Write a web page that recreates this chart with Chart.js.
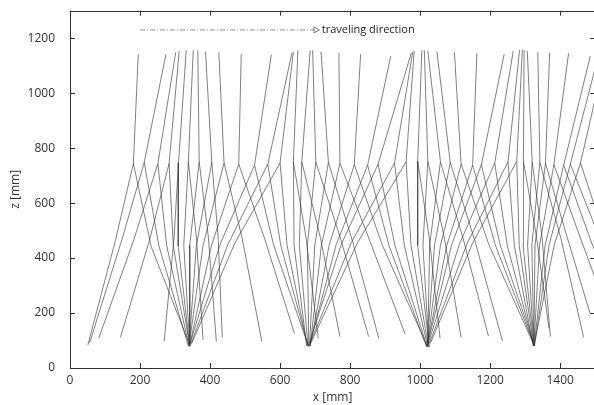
<!DOCTYPE html>
<html>
<head>
<meta charset="utf-8">
<script src="https://cdn.jsdelivr.net/npm/chart.js@4.4.0/dist/chart.umd.min.js"></script>
<style>
  html, body { margin: 0; padding: 0; background: #fff; overflow: hidden; }
  #wrap { width: 600px; height: 405px; position: relative; }
</style>
</head>
<body>
<div id="wrap"><canvas id="gait"></canvas></div>
<script>
// stick figures of a walking gait, one entry per frame (mm)
const hipX = [181, 212, 251, 283, 310, 338, 369, 405, 440, 482, 527, 565, 600, 638, 662, 702, 738, 771, 812, 850, 880, 927, 960, 993, 1022, 1058, 1086, 1117, 1150, 1175, 1213, 1251, 1276, 1295, 1320, 1342, 1358, 1382, 1410, 1429, 1458];
const hipZ = [744, 748, 744, 744, 748, 750, 750, 748, 746, 742, 738, 742, 746, 750, 750, 750, 748, 745, 740, 738, 742, 746, 750, 752, 752, 750, 748, 742, 738, 740, 745, 750, 752, 752, 750, 748, 745, 740, 738, 742, 746];
const topX = [195, 274, 302, 312, 332, 352, 365, 387, 425, 489, 575, 634, 638, 651, 686, 693, 717, 768, 830, 916, 975, 979, 983, 1005, 1012, 1022, 1048, 1098, 1162, 1240, 1266, 1284, 1292, 1297, 1306, 1336, 1370, 1424, 1486, 1510, 1530];
const topZ = [1142, 1142, 1149, 1154, 1156, 1156, 1156, 1151, 1149, 1142, 1140, 1147, 1151, 1156, 1156, 1156, 1151, 1147, 1142, 1135, 1147, 1151, 1154, 1156, 1156, 1154, 1151, 1149, 1145, 1142, 1154, 1156, 1158, 1156, 1154, 1149, 1147, 1145, 1135, 1140, 1145];

// leg A
const kneeAX = [232, 254, 276, 295, 309, 325, 342, 361, 380, 404, 428, 451, 471, 674, 715, 773, 806, 857, 891, 911, 928, 955, 974, 993, 1008, 1027, 1041, 1058, 1076, 1090, 1112, 1134, 1150, 1332, 1348, 1402, 1419, 1460, 1490, 1520, 1535];
const kneeAZ = [441, 444, 446, 446, 444, 446, 446, 446, 446, 446, 448, 450, 455, 475, 475, 470, 465, 460, 450, 446, 446, 446, 446, 446, 446, 446, 446, 446, 446, 448, 450, 452, 455, 480, 478, 472, 480, 465, 455, 450, 448];
const ankleAX = [342, 338, 340, 342, 342, 342, 342, 340, 340, 342, 342, 345, 348, 709, 771, 853, 882, 957, 1020, 1018, 1020, 1022, 1024, 1026, 1025, 1022, 1020, 1020, 1020, 1020, 1022, 1026, 1030, 1368, 1372, 1467, 1485, 1560, 1600, 1640, 1660];
const ankleAZ = [84, 80, 80, 78, 78, 80, 80, 80, 82, 84, 84, 86, 90, 108, 114, 114, 108, 124, 80, 78, 76, 76, 76, 78, 78, 78, 78, 80, 80, 80, 84, 88, 92, 144, 114, 112, 200, 120, 100, 82, 82];

// leg B
const kneeBX = [129, 149, 182, 227, 297, 361, 395, 423, 492, 556, 581, 602, 620, 640, 655, 678, 699, 718, 740, 760, 775, 803, 822, 1026, 1069, 1123, 1156, 1196, 1215, 1229, 1249, 1269, 1283, 1294, 1307, 1319, 1328, 1341, 1357, 1368, 1383];
const kneeBZ = [460, 470, 465, 465, 470, 475, 478, 478, 470, 470, 450, 446, 446, 446, 446, 446, 446, 446, 446, 448, 450, 455, 458, 475, 475, 470, 465, 450, 446, 446, 446, 446, 446, 446, 446, 446, 446, 446, 446, 446, 448];
const ankleBX = [51, 56, 82, 144, 269, 380, 418, 435, 548, 641, 680, 680, 678, 676, 680, 682, 684, 686, 686, 684, 682, 685, 688, 1057, 1117, 1195, 1235, 1325, 1326, 1327, 1325, 1323, 1324, 1325, 1325, 1325, 1325, 1325, 1326, 1327, 1326];
const ankleBZ = [84, 91, 108, 111, 98, 102, 96, 111, 96, 126, 82, 80, 80, 80, 78, 78, 78, 80, 80, 82, 84, 88, 92, 108, 112, 116, 99, 84, 82, 80, 80, 80, 80, 80, 80, 80, 82, 82, 84, 84, 86];

// traveling direction arrow
const arrowX = [200, 702];
const arrowZ = [1230, 1230];
const arrowText = 'traveling direction';

const xTicks = { min: 0, max: 1500, step: 200 };
const zTicks = { min: 0, max: 1300, step: 200 };

const LINE = '#3c3c3c';
const FONT = { family: "'Open Sans', 'DejaVu Sans', sans-serif", size: 12 };

const datasets = [];
hipX.forEach((hx, i) => {
    datasets.push({
        data: [
            { x: ankleBX[i], y: ankleBZ[i] },
            { x: kneeBX[i], y: kneeBZ[i] },
            { x: hx, y: hipZ[i] },
            { x: topX[i], y: topZ[i] }
        ]
    });
    datasets.push({
        data: [
            { x: hx, y: hipZ[i] },
            { x: kneeAX[i], y: kneeAZ[i] },
            { x: ankleAX[i], y: ankleAZ[i] }
        ]
    });
});
datasets.forEach((ds) => {
    Object.assign(ds, {
        showLine: true, borderColor: LINE, borderWidth: 0.65,
        pointRadius: 0, fill: false, tension: 0
    });
});
datasets.push({
    data: arrowX.map((x, i) => ({ x, y: arrowZ[i] })),
    showLine: true, borderColor: '#666', borderWidth: 0.7,
    borderDash: [5, 2, 1, 2],
    pointRadius: [0, 3.5], pointStyle: 'triangle', rotation: 90,
    pointBackgroundColor: '#fff', pointBorderColor: '#555', pointBorderWidth: 0.8
});

const framePlugin = {
    id: 'frame',
    afterDraw(chart) {
        const { ctx, chartArea: a, scales: { x, y } } = chart;
        ctx.save();
        ctx.strokeStyle = '#333';
        ctx.lineWidth = 1;
        ctx.strokeRect(Math.round(a.left) + 0.5, Math.round(a.top) + 0.5,
            Math.round(a.right - a.left), Math.round(a.bottom - a.top));
        ctx.beginPath();
        x.ticks.forEach((t) => {
            const px = Math.round(x.getPixelForValue(t.value)) + 0.5;
            ctx.moveTo(px, a.bottom); ctx.lineTo(px, a.bottom - 5);
            ctx.moveTo(px, a.top); ctx.lineTo(px, a.top + 5);
        });
        y.ticks.forEach((t) => {
            const py = Math.round(y.getPixelForValue(t.value)) + 0.5;
            ctx.moveTo(a.left, py); ctx.lineTo(a.left + 5, py);
            ctx.moveTo(a.right, py); ctx.lineTo(a.right - 5, py);
        });
        ctx.stroke();
        // arrow caption
        ctx.fillStyle = '#222';
        ctx.font = "11px 'Open Sans', 'DejaVu Sans', sans-serif";
        ctx.textBaseline = 'middle';
        const last = arrowX.length - 1;
        ctx.fillText(arrowText, x.getPixelForValue(arrowX[last]) + 6, y.getPixelForValue(arrowZ[last]));
        ctx.restore();
    }
};

const plain = (v) => String(v);

new Chart(document.getElementById('gait'), {
    type: 'scatter',
    data: { datasets },
    options: {
        responsive: true,
        maintainAspectRatio: false,
        animation: false,
        layout: { padding: { top: 10.7, right: 1.7, left: 0, bottom: 0 } },
        plugins: { legend: { display: false }, tooltip: { enabled: false } },
        scales: {
            x: {
                type: 'linear', min: xTicks.min, max: xTicks.max,
                grid: { display: false }, border: { display: false },
                ticks: { stepSize: xTicks.step, includeBounds: false, color: '#333', font: FONT, padding: -3, maxRotation: 0, callback: plain },
                title: { display: true, text: 'x [mm]', color: '#333', font: FONT, padding: { top: 0, bottom: 0 } },
                afterFit(scale) {
                    scale.height = 37;
                    scale.paddingLeft = 0; scale.paddingRight = 0;
                }
            },
            y: {
                type: 'linear', min: zTicks.min, max: zTicks.max,
                grid: { display: false }, border: { display: false },
                ticks: { stepSize: zTicks.step, includeBounds: false, color: '#333', font: FONT, padding: 7, callback: plain },
                title: { display: true, text: 'z [mm]', color: '#333', font: FONT, padding: { top: 8, bottom: 0 } },
                afterFit(scale) {
                    scale.width = 70;
                    scale.paddingTop = 0; scale.paddingBottom = 0;
                }
            }
        }
    },
    plugins: [framePlugin]
});
</script>
</body>
</html>
